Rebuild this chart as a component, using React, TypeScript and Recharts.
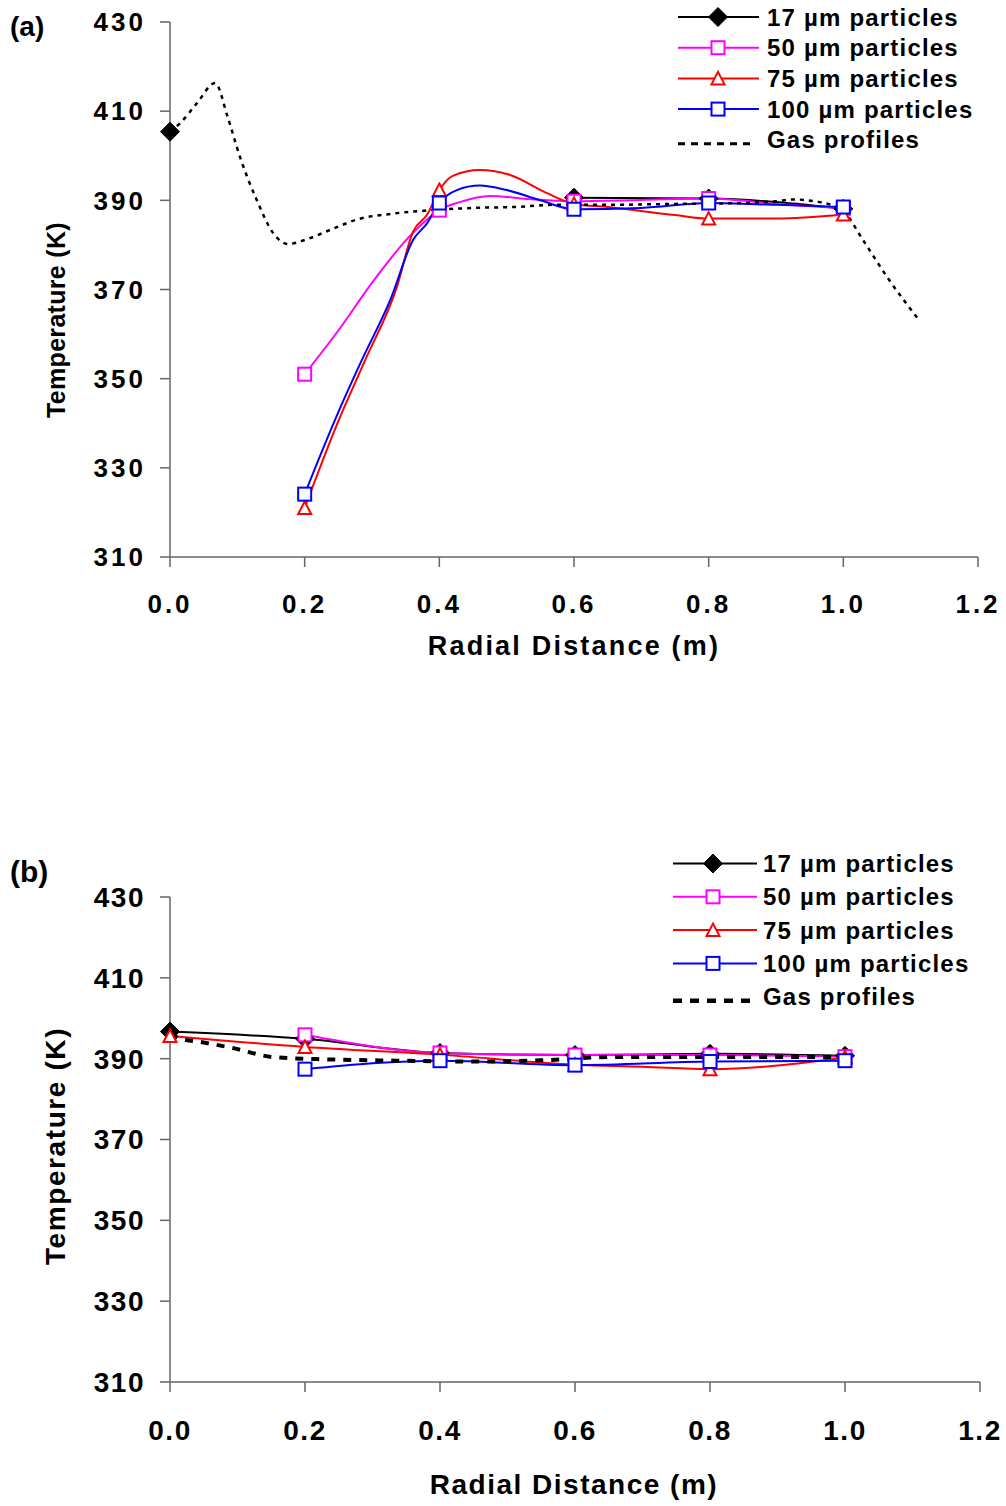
import { LineChart, Line, XAxis, YAxis, Legend } from "recharts"

const FONT = '"Liberation Sans", Arial, Helvetica, sans-serif'

const xTicks = [0, 0.2, 0.4, 0.6, 0.8, 1.0, 1.2]
const yTicks = [310, 330, 350, 370, 390, 410, 430]
const names = ["17 µm particles", "50 µm particles", "75 µm particles", "100 µm particles", "Gas profiles"]
const colors = ["#000000", "#ff00ff", "#ff0000", "#0000ff", "#000000"]
const shapes = ["diamond", "square", "triangle", "square", "none"]

// ---- panel (a)
const a17X = [0, 0.2, 0.4, 0.6, 0.8, 1.0]
const a17T = [405.4, null, null, 390.6, 390.4, 388.1]

const a50X = [0.2, 0.25, 0.3, 0.355, 0.39, 0.4, 0.43, 0.475, 0.53, 0.6, 0.7, 0.8, 0.9, 1.0]
const a50T = [351, 360.8, 371.5, 381.8, 386.7, 387.8, 389.6, 391, 390.3, 389.8, 390.1, 390.4, 389.2, 388.2]

const a75X = [0.2, 0.25, 0.29, 0.337, 0.361, 0.382, 0.4, 0.42, 0.46, 0.505, 0.56, 0.6, 0.65, 0.75, 0.8, 0.9, 1.0]
const a75T = [321, 340.5, 354.2, 370.6, 383, 386.8, 392.3, 395.5, 396.8, 395.7, 391.6, 389.2, 388.5, 386.7, 385.9, 385.9, 386.8]

const a100X = [0.2, 0.25, 0.285, 0.327, 0.361, 0.382, 0.4, 0.426, 0.46, 0.5, 0.55, 0.6, 0.7, 0.8, 0.9, 1.0]
const a100T = [324.1, 342.5, 354.2, 367.6, 381.1, 384.9, 389.4, 392.3, 393.3, 392.3, 390, 388, 388.3, 389.4, 389, 388.5]

const aGasX = [0, 0.015, 0.04, 0.067, 0.086, 0.104, 0.129, 0.153, 0.175, 0.2, 0.24, 0.28, 0.33, 0.39, 0.45, 0.51, 0.575, 0.65, 0.75, 0.85, 0.9, 0.925, 0.965, 1.0, 1.03, 1.065, 1.11]
const aGasT = [405.4, 407.3, 411.8, 416.3, 408.5, 399.7, 390, 382.7, 380.2, 381.1, 383.5, 385.8, 387, 387.8, 388.3, 388.5, 389, 389, 389.2, 389.4, 389.8, 390.2, 389.6, 387.5, 380.9, 372.8, 363.6]

// ---- panel (b)
const b17X = [0, 0.2, 0.4, 0.6, 0.8, 1.0]
const b17T = [396.7, 394.9, 391.4, 390.9, 391.2, 390.7]

const b50X = [0.2, 0.4, 0.6, 0.8, 1.0]
const b50T = [395.9, 391.4, 390.9, 390.9, 390.5]

const b75X = [0, 0.2, 0.4, 0.6, 0.7, 0.8, 1.0]
const b75T = [395.6, 392.9, 391, 388.5, 388, 387.4, 390.3]

const b100X = [0.2, 0.4, 0.6, 0.8, 1.0]
const b100T = [387.4, 389.5, 388.4, 389.3, 389.5]

const bGasX = [0, 0.015, 0.05, 0.094, 0.152, 0.217, 0.3, 0.464, 0.55, 0.656, 0.8, 1.0]
const bGasT = [396, 395, 394, 392.6, 390.4, 389.9, 389.6, 389.3, 389.6, 390.4, 390.4, 390.4]

const toData = (xs: number[], ts: (number | null)[]) =>
  xs.map((x, i) => ({ x, t: ts[i], m: Math.abs(x * 5 - Math.round(x * 5)) < 1e-6 }))

const Marker = ({ shape, cx, cy, color }: any) => {
  if (shape === "diamond") {
    const r = 9.5
    return <path d={`M${cx},${cy - r}L${cx + r},${cy}L${cx},${cy + r}L${cx - r},${cy}Z`} fill={color} stroke={color} />
  }
  if (shape === "square") {
    return <rect x={cx - 6.5} y={cy - 6.5} width={13} height={13} fill="#fff" stroke={color} strokeWidth={2} />
  }
  if (shape === "triangle") {
    return <path d={`M${cx},${cy - 6.5}L${cx + 6.5},${cy + 6}L${cx - 6.5},${cy + 6}Z`} fill="#fff" stroke={color} strokeWidth={2} />
  }
  return null
}

const dotFor = (shape: string, color: string) => (p: any) => {
  const { cx, cy, payload, index } = p
  if (!payload || !payload.m || payload.t == null || cx == null || cy == null) return <g key={`n${index}`} />
  return (
    <g key={`d${index}`}>
      <Marker shape={shape} cx={cx} cy={cy} color={color} />
    </g>
  )
}

const panels = [
  {
    tag: "(a)",
    top: 0,
    height: 700,
    margin: { top: 22, right: 28, left: 60, bottom: 43 },
    xAxisHeight: 100,
    tickFont: 26,
    tickLs: 3,
    xTickMargin: 28,
    yTickMargin: 14,
    titleFont: 27,
    titleLs: 2.2,
    xTitleY: 655,
    yTitle: { x: 65, y: 320, font: 25, ls: 0.3 },
    tagPos: { x: 10, y: 36, font: 28 },
    legend: { y0: 17, dy: 30.7, x1: 678, x2: 759, mx: 718, tx: 767 },
    gas: { width: 2.5, dash: "4 5", legendWidth: 3, legendDash: "7 6" },
    series: [toData(a17X, a17T), toData(a50X, a50T), toData(a75X, a75T), toData(a100X, a100T), toData(aGasX, aGasT)],
  },
  {
    tag: "(b)",
    top: 760,
    height: 746,
    margin: { top: 137, right: 26, left: 60, bottom: 12 },
    xAxisHeight: 112,
    tickFont: 28,
    tickLs: 1.5,
    xTickMargin: 28,
    yTickMargin: 15,
    titleFont: 28,
    titleLs: 1.5,
    xTitleY: 734,
    yTitle: { x: 65, y: 386, font: 28, ls: 1.6 },
    tagPos: { x: 10, y: 122, font: 30 },
    legend: { y0: 103.5, dy: 33.3, x1: 673, x2: 757, mx: 713, tx: 763 },
    gas: { width: 4, dash: "8 8", legendWidth: 4.5, legendDash: "9 8" },
    series: [toData(b17X, b17T), toData(b50X, b50T), toData(b75X, b75T), toData(b100X, b100T), toData(bGasX, bGasT)],
  },
]

const LegendArt = ({ cfg }: any) => {
  const L = cfg.legend
  return (
    <svg width={1006} height={cfg.height} style={{ position: "absolute", left: 0, top: 0, pointerEvents: "none" }}>
      <text x={cfg.tagPos.x} y={cfg.tagPos.y} fontFamily={FONT} fontWeight="bold" fontSize={cfg.tagPos.font} fill="#000">
        {cfg.tag}
      </text>
      {names.map((n, i) => {
        const y = L.y0 + i * L.dy
        const isGas = i === 4
        return (
          <g key={n}>
            <line
              x1={L.x1}
              x2={isGas ? L.x2 - 4 : L.x2}
              y1={isGas ? y + 4 : y}
              y2={isGas ? y + 4 : y}
              stroke={colors[i]}
              strokeWidth={isGas ? cfg.gas.legendWidth : 2}
              strokeDasharray={isGas ? cfg.gas.legendDash : undefined}
            />
            <Marker shape={shapes[i]} cx={L.mx} cy={y} color={colors[i]} />
            <text x={L.tx} y={y + 8.5} fontFamily={FONT} fontWeight="bold" fontSize={24} letterSpacing={1.2} fill="#000">
              {n}
            </text>
          </g>
        )
      })}
    </svg>
  )
}

const Panel = ({ cfg }: any) => {
  const tick = { fill: "#000", fontSize: cfg.tickFont, fontWeight: 700, fontFamily: FONT, letterSpacing: cfg.tickLs }
  const yt = cfg.yTitle
  return (
    <div style={{ position: "absolute", left: 0, top: cfg.top, width: 1006, height: cfg.height }}>
      <LineChart width={1006} height={cfg.height} margin={cfg.margin}>
        <XAxis
          type="number"
          dataKey="x"
          domain={[0, 1.2]}
          ticks={xTicks}
          tickFormatter={(v: number) => v.toFixed(1)}
          tickSize={10}
          tickMargin={cfg.xTickMargin}
          height={cfg.xAxisHeight}
          stroke="#666"
          strokeWidth={1.5}
          tick={tick}
          label={() => (
            <text x={574} y={cfg.xTitleY} textAnchor="middle" fontFamily={FONT} fontWeight="bold" fontSize={cfg.titleFont} letterSpacing={cfg.titleLs} fill="#000">
              Radial Distance (m)
            </text>
          )}
        />
        <YAxis
          type="number"
          domain={[310, 430]}
          ticks={yTicks}
          tickSize={10}
          tickMargin={cfg.yTickMargin}
          width={110}
          stroke="#666"
          strokeWidth={1.5}
          tick={tick}
          label={() => (
            <text
              x={yt.x}
              y={yt.y}
              transform={`rotate(-90 ${yt.x} ${yt.y})`}
              textAnchor="middle"
              fontFamily={FONT}
              fontWeight="bold"
              fontSize={yt.font}
              letterSpacing={yt.ls}
              fill="#000"
            >
              Temperature (K)
            </text>
          )}
        />
        <Legend
          layout="vertical"
          align="center"
          verticalAlign="middle"
          wrapperStyle={{ left: 0, top: 0, width: 1006, height: cfg.height }}
          content={() => <LegendArt cfg={cfg} />}
        />
        {cfg.series.slice(0, 4).map((d: any, i: number) => (
          <Line
            key={names[i]}
            data={d}
            dataKey="t"
            name={names[i]}
            type="monotone"
            stroke={colors[i]}
            strokeWidth={2}
            dot={dotFor(shapes[i], colors[i])}
            activeDot={false}
            isAnimationActive={false}
          />
        ))}
        <Line
          data={cfg.series[4]}
          dataKey="t"
          name={names[4]}
          type="monotone"
          stroke="#000"
          strokeWidth={cfg.gas.width}
          strokeDasharray={cfg.gas.dash}
          dot={false}
          activeDot={false}
          isAnimationActive={false}
        />
      </LineChart>
    </div>
  )
}

export default function App() {
  return (
    <div style={{ position: "absolute", left: 0, top: 0, width: 1006, height: 1506, background: "#fff" }}>
      {panels.map((p) => (
        <Panel key={p.tag} cfg={p} />
      ))}
    </div>
  )
}
